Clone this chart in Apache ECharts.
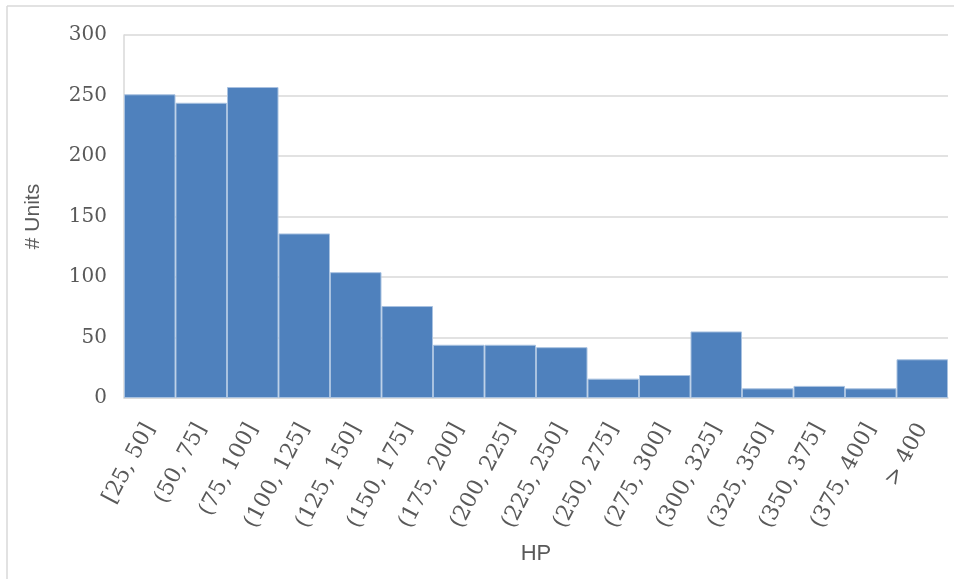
<!DOCTYPE html>
<html>
<head>
<meta charset="utf-8">
<script src="https://cdn.jsdelivr.net/npm/echarts@6/dist/echarts.min.js"></script>
<style>
html,body{margin:0;padding:0;background:#fff;}
#chart{width:954px;height:579px;}
</style>
</head>
<body>
<div id="chart"></div>
<script>
var categories = ['[25, 50]', '(50, 75]', '(75, 100]', '(100, 125]', '(125, 150]', '(150, 175]', '(175, 200]', '(200, 225]', '(225, 250]', '(250, 275]', '(275, 300]', '(300, 325]', '(325, 350]', '(350, 375]', '(375, 400]', '> 400'];
var units = [251, 244, 257, 136, 104, 76, 44, 44, 42, 16, 19, 55, 8, 10, 8, 32];
var yTicks = [0, 50, 100, 150, 200, 250, 300];

var chart = echarts.init(document.getElementById('chart'), null, {renderer: 'canvas'});
chart.setOption({
  animation: false,
  backgroundColor: '#ffffff',
  grid: {left: 124, right: 6, top: 35, bottom: 181, containLabel: false},
  graphic: [
    {type: 'line', shape: {x1: 7, y1: 6, x2: 954, y2: 6}, style: {stroke: '#d9d9d9', lineWidth: 1.5}},
    {type: 'line', shape: {x1: 7, y1: 6, x2: 7, y2: 579}, style: {stroke: '#d9d9d9', lineWidth: 1.5}}
  ],
  xAxis: {
    type: 'category',
    data: categories,
    name: 'HP',
    nameLocation: 'middle',
    nameGap: 145,
    nameTextStyle: {fontFamily: 'Liberation Sans', fontSize: 22, color: '#595959'},
    axisLine: {show: true, lineStyle: {color: '#d9d9d9', width: 1.5}},
    axisTick: {show: false},
    axisLabel: {
      interval: 0,
      rotate: 62,
      margin: 27,
      fontFamily: 'DejaVu Serif',
      fontSize: 22,
      color: '#595959'
    }
  },
  yAxis: {
    type: 'value',
    min: 0,
    max: 300,
    interval: 50,
    name: '# Units',
    nameLocation: 'middle',
    nameGap: 80,
    nameRotate: 90,
    nameTextStyle: {fontFamily: 'Liberation Sans', fontSize: 21, color: '#595959'},
    axisLine: {show: true, lineStyle: {color: '#d9d9d9', width: 1.5}},
    axisTick: {show: false},
    axisLabel: {
      margin: 17,
      fontFamily: 'DejaVu Serif',
      fontSize: 20,
      color: '#595959',
      formatter: function (v) { return yTicks.indexOf(v) >= 0 ? String(v) : ''; }
    },
    splitLine: {show: true, lineStyle: {color: '#d9d9d9', width: 1.5}}
  },
  series: [{
    type: 'bar',
    data: units,
    barCategoryGap: '0%',
    itemStyle: {color: '#4f81bd', borderColor: '#a9c2e0', borderWidth: 1}
  }]
});
</script>
</body>
</html>
